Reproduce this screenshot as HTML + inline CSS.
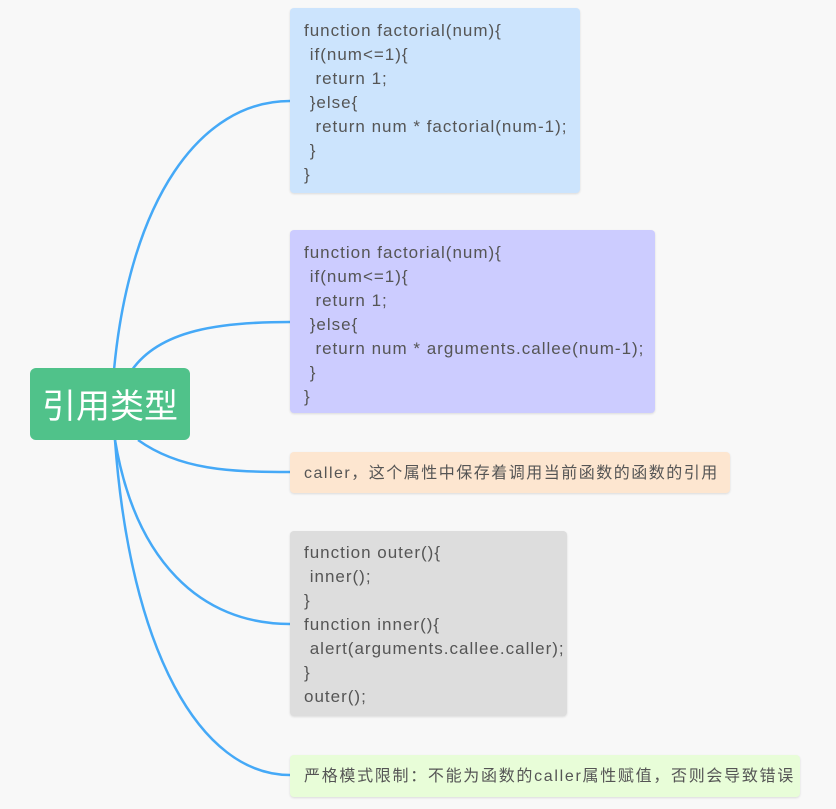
<!DOCTYPE html>
<html><head><meta charset="utf-8"><style>
body{margin:0;width:836px;height:809px;background:#f8f8f8;position:relative;overflow:hidden;font-family:"Liberation Sans","Noto Sans CJK SC",sans-serif;}
.b{position:absolute;border-radius:4px;box-shadow:0 1px 2px rgba(0,0,0,0.12);color:#555;font-size:17px;letter-spacing:1px;line-height:24px;padding:11px 14px;box-sizing:border-box;white-space:pre;}
.c{font-size:16px;letter-spacing:1.5px;}
.root{position:absolute;left:30px;top:368px;width:160px;height:72px;background:#50c28a;border-radius:6px;color:#fff;font-size:34px;line-height:72px;text-align:center;font-family:"Noto Sans CJK SC",sans-serif;}
</style></head><body>
<svg width="836" height="809" style="position:absolute;left:0;top:0">
<g fill="none" stroke="#45a9f7" stroke-width="2.5">
<path d="M114 370 C130 200 200 101 290 101"/>
<path d="M132 370 C160 330 220 322 290 322"/>
<path d="M138 440 C180 470 230 472 290 472"/>
<path d="M115 440 C135 560 200 624 290 624"/>
<path d="M115 440 C130 650 200 775 290 775"/>
</g></svg>
<div class="b" style="left:290px;top:8px;width:290px;height:185px;background:#cce4fd">function factorial(num){
 if(num&lt;=1){
  return 1;
 }else{
  return num * factorial(num-1);
 }
}</div>
<div class="b" style="left:290px;top:230px;width:365px;height:183px;background:#ccccff">function factorial(num){
 if(num&lt;=1){
  return 1;
 }else{
  return num * arguments.callee(num-1);
 }
}</div>
<div class="b c" style="left:290px;top:452px;width:440px;height:41px;background:#fde6d0;padding-top:10px">caller，这个属性中保存着调用当前函数的函数的引用</div>
<div class="b" style="left:290px;top:531px;width:277px;height:185px;background:#dddddd;padding-top:10px">function outer(){
 inner();
}
function inner(){
 alert(arguments.callee.caller);
}
outer();</div>
<div class="b c" style="left:290px;top:755px;width:510px;height:42px;background:#e8fdd8;padding-top:10px;letter-spacing:1.7px">严格模式限制：不能为函数的caller属性赋值，否则会导致错误</div>
<div class="root">引用类型</div>
</body></html>
